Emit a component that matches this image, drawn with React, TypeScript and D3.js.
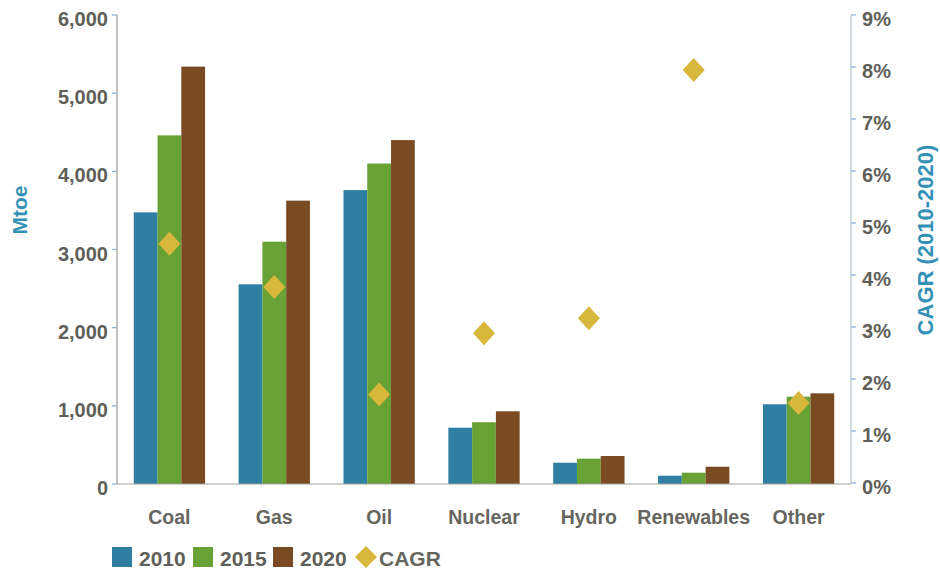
import React from "react";
import * as d3 from "d3";

const categories = ["Coal", "Gas", "Oil", "Nuclear", "Hydro", "Renewables", "Other"];
const series = ["2010", "2015", "2020"];
const values2010 = [3475, 2555, 3760, 720, 272, 106, 1020];
const values2015 = [4460, 3100, 4100, 790, 324, 145, 1117];
const values2020 = [5340, 3625, 4400, 930, 358, 221, 1160];
const cagr = [4.6, 3.77, 1.7, 2.88, 3.17, 7.94, 1.54];
const leftTicks = [0, 1000, 2000, 3000, 4000, 5000, 6000];
const rightTicks = [0, 1, 2, 3, 4, 5, 6, 7, 8, 9];

const colors = ["#2e7fa2", "#68a234", "#7a4b22"];
const gold = "#d8b83c";
const titleColor = "#3491b6";
const tickColor = "#5f5f5a";
const font = "'Liberation Sans', Arial, sans-serif";

export default function App() {
  const W = 940, H = 574;
  const x0 = 117, x1 = 851, yTop = 15, yBase = 484;
  const seriesValues = [values2010, values2015, values2020];

  const x = d3.scaleBand<string>().domain(categories).range([x0, x1]).paddingInner(0.32).paddingOuter(0.16);
  const xs = d3.scaleBand<string>().domain(series).range([0, x.bandwidth()]);
  const y = d3.scaleLinear().domain([0, 6000]).range([yBase, yTop]);
  const y2 = d3.scaleLinear().domain([0, 9]).range([yBase - 1, yTop]);
  const fmt = d3.format(",");

  const diamond = (cx: number, cy: number, hw: number, hh: number) =>
    `M${cx},${cy - hh}L${cx + hw},${cy}L${cx},${cy + hh}L${cx - hw},${cy}Z`;

  const legendItems = [
    { label: "2010", x: 112, color: colors[0] },
    { label: "2015", x: 193, color: colors[1] },
    { label: "2020", x: 273, color: colors[2] },
  ];

  return (
    <svg width={W} height={H} style={{ position: "absolute", left: 0, top: 0, background: "#fff" }} fontFamily={font}>
      {/* bars */}
      {categories.map((c, i) => (
        <g key={c} transform={`translate(${x(c)},0)`}>
          {series.map((s, j) => (
            <rect key={s} x={xs(s)} y={y(seriesValues[j][i])} width={xs.bandwidth()} height={yBase - y(seriesValues[j][i])} fill={colors[j]} />
          ))}
        </g>
      ))}
      {/* baseline */}
      <line x1={x0} x2={x1} y1={yBase} y2={yBase} stroke="#a0a0a0" strokeWidth={1.2} />
      {/* left axis */}
      <line x1={x0} x2={x0} y1={yTop} y2={yBase} stroke="#999" strokeWidth={1.2} />
      {leftTicks.map((t) => (
        <g key={t}>
          <line x1={x0 - 5} x2={x0} y1={y(t)} y2={y(t)} stroke="#8aaed0" strokeWidth={1.2} />
          <text x={108} y={y(t) + 11} textAnchor="end" fontSize={20} fontWeight="bold" fill={tickColor}>{fmt(t)}</text>
        </g>
      ))}
      {/* right axis */}
      <line x1={x1} x2={x1} y1={yTop} y2={yBase} stroke="#b8c4d0" strokeWidth={1.2} />
      {rightTicks.map((t) => (
        <g key={t}>
          <line x1={x1} x2={x1 + 5} y1={y2(t)} y2={y2(t)} stroke="#8aaed0" strokeWidth={1.2} />
          <text x={862} y={y2(t) + 11} textAnchor="start" fontSize={20} fontWeight="bold" fill={tickColor}>{t}%</text>
        </g>
      ))}
      {/* CAGR diamonds */}
      {categories.map((c, i) => (
        <path key={c} d={diamond((x(c) as number) + x.bandwidth() / 2, y2(cagr[i]), 11, 12)} fill={gold} />
      ))}
      {/* category labels */}
      {categories.map((c) => (
        <text key={c} x={(x(c) as number) + x.bandwidth() / 2} y={524} textAnchor="middle" fontSize={19.5} fontWeight="bold" fill="#66665f">{c}</text>
      ))}
      {/* axis titles */}
      <text transform="translate(27,210) rotate(-90)" textAnchor="middle" fontSize={21} fontWeight="bold" fill={titleColor}>Mtoe</text>
      <text transform="translate(933,240) rotate(-90)" textAnchor="middle" fontSize={22} fontWeight="bold" fill={titleColor}>CAGR (2010-2020)</text>
      {/* legend */}
      {legendItems.map((l) => (
        <g key={l.label}>
          <rect x={l.x} y={547} width={20} height={20} fill={l.color} />
          <text x={l.x + 27} y={566} fontSize={21} fontWeight="bold" fill={tickColor}>{l.label}</text>
        </g>
      ))}
      <path d={diamond(366, 557, 11, 11)} fill={gold} />
      <text x={379} y={566} fontSize={21} fontWeight="bold" fill="#66665f">CAGR</text>
    </svg>
  );
}
